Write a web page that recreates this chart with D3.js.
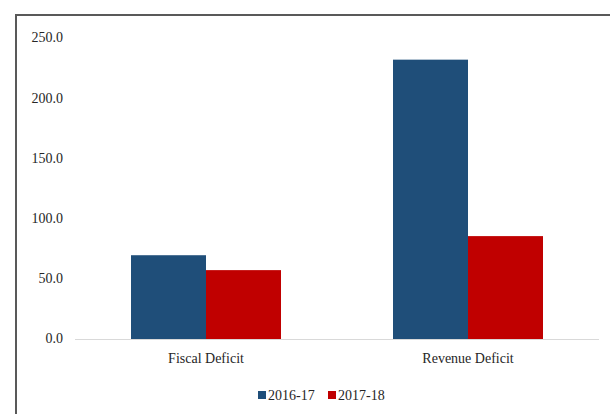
<!DOCTYPE html>
<html><head><meta charset="utf-8">
<script src="https://cdn.jsdelivr.net/npm/d3@7"></script>
<style>
html,body{margin:0;padding:0;background:#fff;}
svg{display:block;}
</style></head>
<body>
<svg id="chart" width="610" height="414"></svg>
<script>
const categories = ["Fiscal Deficit", "Revenue Deficit"];
const seriesNames = ["2016-17", "2017-18"];
const values2016 = [69.7, 232.4];
const values2017 = [57.3, 85.6];
const yTicks = [0, 50, 100, 150, 200, 250];
const colors = ["#1F4E79", "#C00000"];
const FONT = "'Times New Roman', 'Liberation Serif', Times, serif";
const FS = 14;

const svg = d3.select("#chart").attr("font-family", FONT);
svg.append("rect").attr("x", 16).attr("y", 15).attr("width", 700).attr("height", 500)
  .attr("fill", "none").attr("stroke", "#595959").attr("stroke-width", 2);

const x0 = d3.scaleBand().domain(categories).range([75, 599]).paddingInner(0).paddingOuter(0);
const x1 = d3.scaleBand().domain(seriesNames).range([56, x0.bandwidth() - 56]).padding(0);
const y = d3.scaleLinear().domain([0, 250]).range([339, 38.5]);

const data = categories.map((c, i) => ({cat: c, vals: [values2016[i], values2017[i]]}));

svg.append("g").selectAll("g.cat").data(data).join("g").attr("class", "cat")
  .attr("transform", d => `translate(${x0(d.cat)},0)`)
  .selectAll("rect").data(d => d.vals.map((v, j) => ({s: seriesNames[j], v, j})))
  .join("rect")
  .attr("x", d => x1(d.s)).attr("width", x1.bandwidth())
  .attr("y", d => y(d.v)).attr("height", d => y(0) - y(d.v))
  .attr("fill", d => colors[d.j]);

svg.append("line").attr("x1", 75).attr("x2", 599).attr("y1", y(0) + 0.5).attr("y2", y(0) + 0.5)
  .attr("stroke", "#d9d9d9").attr("stroke-width", 1);

const yAxis = d3.axisLeft(y).tickValues(yTicks).tickFormat(d3.format(".1f")).tickSize(0).tickPadding(0);
const ya = svg.append("g").attr("transform", "translate(63,-1)").call(yAxis)
  .attr("font-family", FONT).attr("font-size", FS);
ya.select(".domain").remove();
ya.selectAll("text").attr("fill", "#262626");

const xAxis = d3.axisBottom(x0).tickSize(0).tickPadding(0);
const xa = svg.append("g").attr("transform", `translate(0,${y(0) + 14})`).call(xAxis)
  .attr("font-family", FONT).attr("font-size", FS);
xa.select(".domain").remove();
xa.selectAll("text").attr("fill", "#262626");

const leg = svg.append("g").attr("transform", "translate(258,391)");
const items = leg.selectAll("g").data(seriesNames).join("g")
  .attr("transform", (d, i) => `translate(${i * 70},0)`);
items.append("rect").attr("width", 8).attr("height", 8).attr("y", 0).attr("fill", (d, i) => colors[i]);
items.append("text").attr("x", 10).attr("y", 9).attr("font-size", FS)
  .attr("font-family", FONT).attr("fill", "#262626").text(d => d);
</script>
</body></html>
